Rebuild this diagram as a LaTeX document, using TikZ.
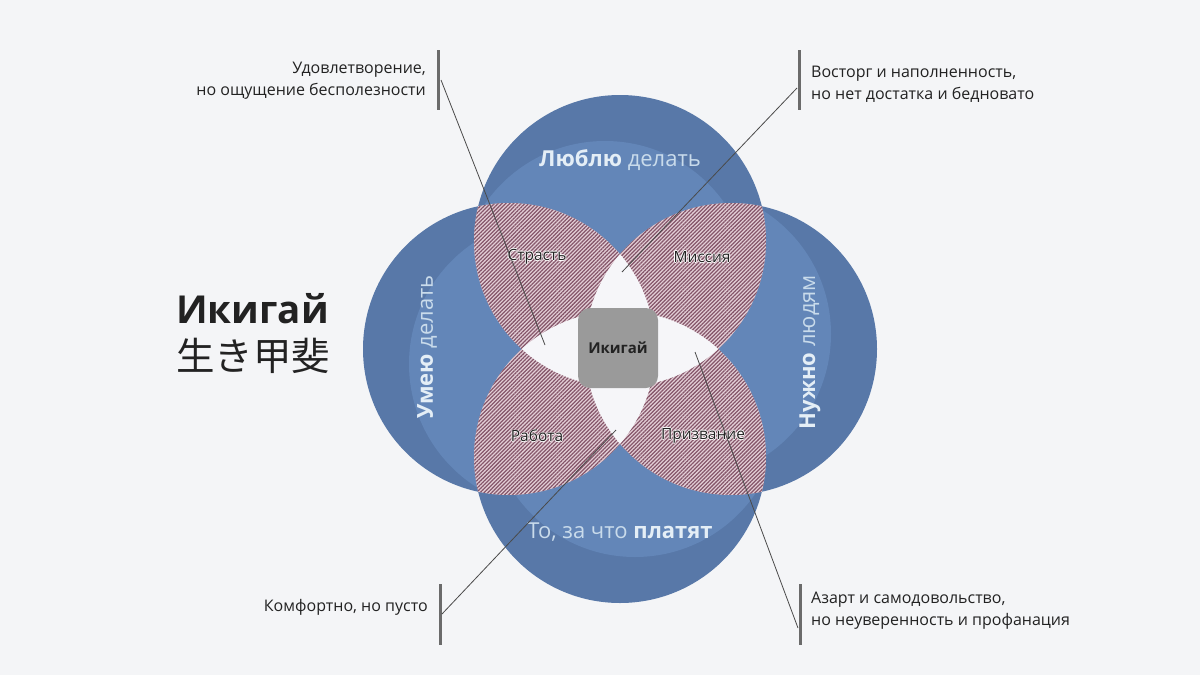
\documentclass[tikz,border=0pt]{standalone}
\usepackage{fontspec}
\setmainfont{Open Sans}
\newfontfamily\cjkfont{Noto Sans CJK JP}
\usetikzlibrary{patterns.meta}
\definecolor{bgc}{HTML}{F4F5F7}
\definecolor{bluedark}{HTML}{5878A8}
\definecolor{bluelight}{HTML}{6386B8}
\definecolor{hatchbase}{HTML}{E4CFD7}
\definecolor{hatchline}{HTML}{85566A}
\definecolor{petal}{HTML}{F6F6F9}
\definecolor{ikigray}{HTML}{9A9A9A}
\definecolor{txtdark}{HTML}{222222}
\definecolor{barc}{HTML}{6B6B6B}
\definecolor{leadc}{HTML}{4A4A4A}
\definecolor{lblbold}{HTML}{E4EEF6}
\definecolor{lblreg}{HTML}{C9DBEB}
\newcommand{\halotxt}[1]{\leavevmode\rlap{\color{white}\hspace*{-0.8pt}#1}\rlap{\color{white}\hspace*{0.8pt}#1}\rlap{\color{white}\raisebox{0.8pt}{#1}}\rlap{\color{white}\raisebox{-0.8pt}{#1}}#1}
\tikzset{
  circlbl/.style={font=\fontsize{22}{26}\selectfont, text=lblreg, inner sep=0pt},
  lenslbl/.style={font=\fontsize{15.5}{18}\selectfont, text=txtdark, inner sep=0pt},
  calltxt/.style={font=\fontsize{16}{22}\selectfont, text=txtdark, inner sep=0pt},
  barline/.style={draw=barc, line width=3pt},
  leader/.style={draw=leadc, line width=0.8pt},
  hatchfill/.style={pattern={Lines[angle=45,distance=2.7pt,line width=1.25pt]}, pattern color=hatchline}
}
\begin{document}
\begin{tikzpicture}[x=1pt,y=-1pt]
\useasboundingbox (0,0) rectangle (1200,675);
\fill[bgc] (0,0) rectangle (1200,675);
% circle centres
\coordinate (cT) at (620,241);
\coordinate (cB) at (620,457);
\coordinate (cL) at (509,349);
\coordinate (cR) at (731,349);
% base circles
\foreach \c/\s in {cT/{(605,287)}, cB/{(635,411)}, cL/{(555,364)}, cR/{(685,334)}}{
  \fill[bluedark] (\c) circle[radius=146];
  \begin{scope}
    \clip (\c) circle[radius=146];
    \fill[bluelight] \s circle[radius=146];
  \end{scope}
}
% hatched pairwise overlaps
\foreach \a/\b in {cT/cL, cT/cR, cB/cL, cB/cR}{
  \begin{scope}
    \clip (\a) circle[radius=146];
    \fill[hatchbase] (\b) circle[radius=146];
    \fill[hatchfill] (\b) circle[radius=146];
  \end{scope}
}
% white petals (three or more circles)
\begin{scope}
  \clip (cT) circle[radius=146];
  \fill[petal] (cB) circle[radius=146];
\end{scope}
\begin{scope}
  \clip (cL) circle[radius=146];
  \fill[petal] (cR) circle[radius=146];
\end{scope}
% centre square
\node[fill=ikigray, minimum width=80pt, minimum height=80pt, rounded corners=12pt,
      font=\bfseries\fontsize{15}{17}\selectfont, text=txtdark] (ikigai) at (618,348) {Икигай};
% circle labels
\node[circlbl] (love) at (620,160) {\textcolor{lblbold}{\bfseries Люблю} делать};
\node[circlbl] (paid) at (620,532) {То, за что \textcolor{lblbold}{\bfseries платят}};
\node[circlbl, rotate=90] (good) at (427,347) {\textcolor{lblbold}{\bfseries Умею} делать};
\node[circlbl, rotate=90] (need) at (810,352) {\textcolor{lblbold}{\bfseries Нужно} людям};
% lens labels
\node[lenslbl] (passion) at (537,257) {\halotxt{Страсть}};
\node[lenslbl] (mission) at (702,257) {\halotxt{Миссия}};
\node[lenslbl] (work) at (537,436) {\halotxt{Работа}};
\node[lenslbl] (vocation) at (703,436) {\halotxt{Призвание}};
% title
\node[anchor=west, inner sep=0pt, font=\bfseries\fontsize{38.5}{42}\selectfont, text=txtdark] (title) at (176,309) {Икигай};
\node[anchor=west, inner sep=0pt, font=\cjkfont\fontsize{38.5}{42}\selectfont, text=txtdark] (kanji) at (176,356) {生き甲斐};
% callouts
\node[calltxt, anchor=east, align=right] (tl) at (426,81) {Удовлетворение,\\но ощущение бесполезности};
\node[calltxt, anchor=west, align=left] (tr) at (811,84) {Восторг и наполненность,\\но нет достатка и бедновато};
\node[calltxt, anchor=east] (bl) at (428,607) {Комфортно, но пусто};
\node[calltxt, anchor=west, align=left] (br) at (811,611) {Азарт и самодовольство,\\но неуверенность и профанация};
% bars
\coordinate (tlb1) at (438,50); \coordinate (tlb2) at (438,110);
\coordinate (trb1) at (799,50); \coordinate (trb2) at (799,110);
\coordinate (blb1) at (440,584); \coordinate (blb2) at (440,645);
\coordinate (brb1) at (800,584); \coordinate (brb2) at (800,645);
\draw[barline] (tlb1) -- (tlb2);
\draw[barline] (trb1) -- (trb2);
\draw[barline] (blb1) -- (blb2);
\draw[barline] (brb1) -- (brb2);
% leader lines
\coordinate (tls) at (441,80);  \coordinate (tle) at (545,345);
\coordinate (trs) at (797,88);  \coordinate (tre) at (622,272);
\coordinate (bls) at (442,614); \coordinate (ble) at (616,430);
\coordinate (brs) at (798,628); \coordinate (bre) at (695,352);
\draw[leader] (tls) -- (tle);
\draw[leader] (trs) -- (tre);
\draw[leader] (bls) -- (ble);
\draw[leader] (brs) -- (bre);
\end{tikzpicture}
\end{document}
